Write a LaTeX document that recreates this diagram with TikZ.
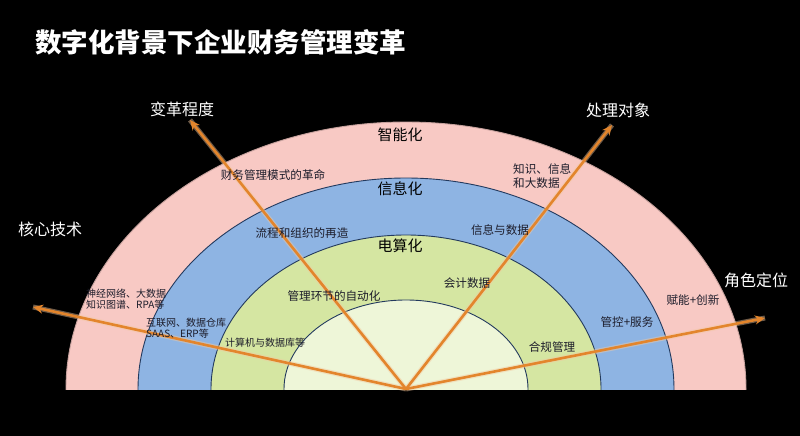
\documentclass[tikz,border=0pt]{standalone}
\usepackage{fontspec}
\newfontfamily\cjk{Noto Sans CJK SC}
\usetikzlibrary{arrows.meta}
\definecolor{bandpink}{HTML}{F8C9C4}
\definecolor{bandblue}{HTML}{8EB4E3}
\definecolor{bandgreen}{HTML}{D5E6A2}
\definecolor{bandlight}{HTML}{EEF6D8}
\definecolor{edge}{HTML}{233A5E}
\definecolor{arrowor}{HTML}{E3852C}
\definecolor{txtdark}{HTML}{1C1C2A}
\tikzset{
  band/.style={draw=edge, line width=0.9pt},
  axis/.style={draw=arrowor, line width=2.6pt, -{Stealth[length=10pt,width=9pt]}},
  glow/.style={draw=arrowor!45, line width=5pt, opacity=0.45},
  title/.style={font=\cjk\bfseries\fontsize{26.5}{30}\selectfont, text=white, inner sep=0pt},
  axlabel/.style={font=\cjk\fontsize{16}{19}\selectfont, text=white, inner sep=0pt},
  bandlabel/.style={font=\cjk\fontsize{15}{18}\selectfont, text=black, inner sep=0pt},
  itemlabel/.style={font=\cjk\fontsize{11.6}{14}\selectfont, text=txtdark, inner sep=0pt},
  smalllabel/.style={font=\cjk\fontsize{10}{11.5}\selectfont, text=txtdark, inner sep=0pt, align=left},
}
\begin{document}
\begin{tikzpicture}[x=1pt,y=-1pt]
\useasboundingbox (0,0) rectangle (800,436);
\fill[black] (0,0) rectangle (800,436);
\coordinate (O) at (406,389);
\begin{scope}
  \clip (0,0) rectangle (800,389);
  \filldraw[band, fill=bandpink, draw=bandpink!80!black] (O) ellipse [x radius=340pt, y radius=267pt];
  \filldraw[band, fill=bandblue] (O) ellipse [x radius=268pt, y radius=211pt];
  \filldraw[band, fill=bandgreen] (O) ellipse [x radius=195pt, y radius=154pt];
  \filldraw[band, fill=bandlight] (O) ellipse [x radius=122pt, y radius=89pt];
\end{scope}
% arrow tips
\coordinate (tA) at (190,120);
\coordinate (tB) at (612,125);
\coordinate (tC) at (33,307);
\coordinate (tD) at (765,318);
\foreach \t in {tA,tB,tC,tD}{
  \draw[glow] (O) -- (\t);
}
\foreach \t in {tA,tB,tC,tD}{
  \draw[axis] (O) -- (\t);
}
% title
\node[title, anchor=west] (ttl) at (35,42) {数字化背景下企业财务管理变革};
% axis labels
\node[axlabel] (lA) at (182,109) {变革程度};
\node[axlabel] (lB) at (618,110) {处理对象};
\node[axlabel] (lC) at (50,229) {核心技术};
\node[axlabel] (lD) at (756,280) {角色定位};
% band labels
\node[bandlabel] (b1) at (400,135) {智能化};
\node[bandlabel] (b2) at (400,189) {信息化};
\node[bandlabel] (b3) at (400,246) {电算化};
% item labels
\node[itemlabel] (i1) at (273,175) {财务管理模式的革命};
\node[itemlabel, align=left, anchor=west] (i2) at (513,176) {知识、信息\\和大数据};
\node[itemlabel] (i3) at (302,233) {流程和组织的再造};
\node[itemlabel] (i4) at (500,230) {信息与数据};
\node[itemlabel] (i5) at (334,296) {管理环节的自动化};
\node[itemlabel] (i6) at (467,283) {会计数据};
\node[itemlabel] (i7) at (552,347) {合规管理};
\node[itemlabel] (i8) at (627,322) {管控+服务};
\node[itemlabel] (i9) at (693,300) {赋能+创新};
\node[smalllabel] (s1) at (265,343) {计算机与数据库等};
\node[smalllabel, anchor=west] (s2) at (146,328) {互联网、数据仓库\\SAAS、ERP等};
\node[smalllabel, anchor=west] (s3) at (86,299) {神经网络、大数据\\知识图谱、RPA等};
\end{tikzpicture}
\end{document}
